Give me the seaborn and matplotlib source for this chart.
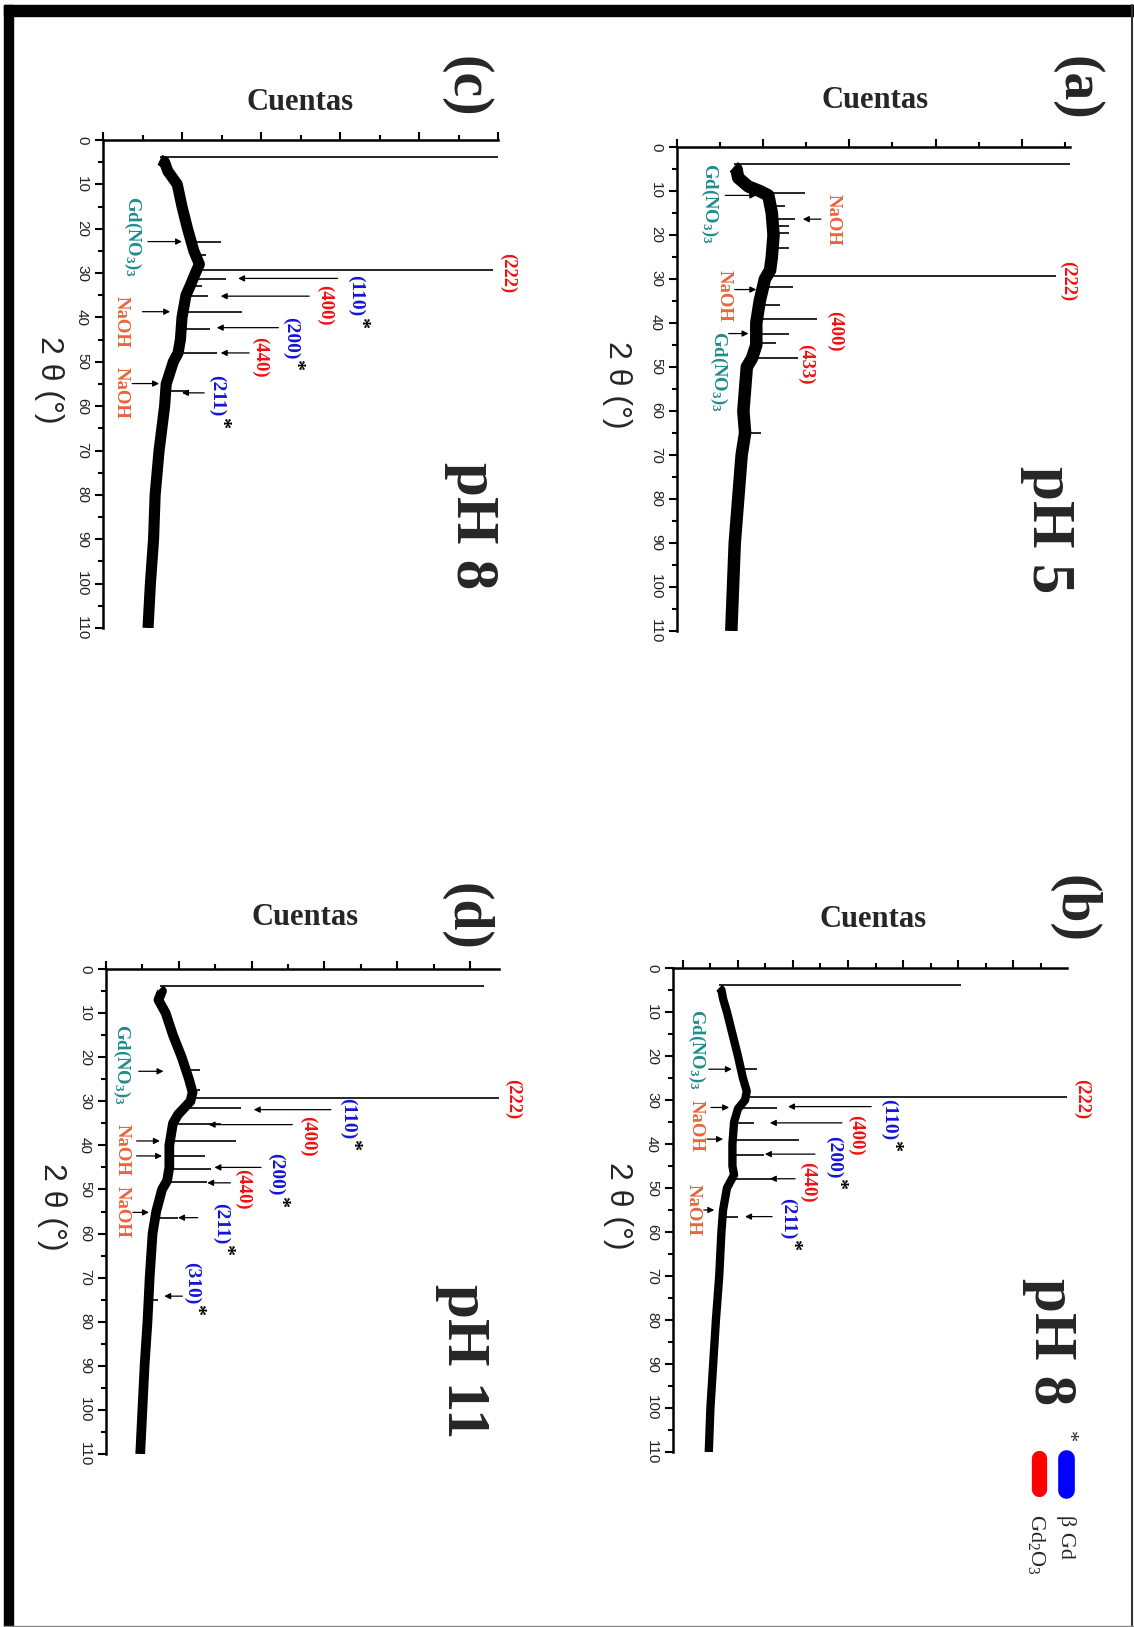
import numpy as np
import pandas as pd
import matplotlib
matplotlib.use('Agg')
import matplotlib.pyplot as plt
import seaborn as sns
from matplotlib.patches import Rectangle
from matplotlib.lines import Line2D

sns.set_theme(style='white')
SERIF = ['Liberation Serif', 'DejaVu Serif']
SANS = ['Liberation Sans', 'DejaVu Sans']
plt.rcParams['font.family'] = SERIF
plt.rcParams['mathtext.default'] = 'regular'

W, H = 1134, 1627
RED, BLUE, TEAL, ORANGE = '#f01010', '#1414d8', '#1f8c8c', '#e8643c'

# ---- (a) pH 5 : 2theta (deg) vs counts (in major-tick units)
tt_a = [4.5, 5, 7, 9, 10, 11, 15, 20, 25, 28, 30, 35, 40, 45, 48, 50, 55, 60, 65, 70, 80, 90, 100, 110]
cts_a = [0.66, 0.69, 0.71, 0.83, 0.96, 1.06, 1.1, 1.12, 1.1, 1.08, 1.02, 0.96, 0.92, 0.92, 0.87, 0.81,
         0.79, 0.77, 0.79, 0.75, 0.71, 0.67, 0.65, 0.63]
pk_tt_a = [3.8, 10.5, 13.5, 16.3, 18.0, 19.5, 23.0, 29.3, 31.8, 36.0, 39.0, 42.4, 44.5, 47.9, 65.0]
pk_base_a = [0.66, 1.0, 1.08, 1.1, 1.11, 1.11, 1.11, 1.04, 0.99, 0.95, 0.93, 0.92, 0.92, 0.87, 0.79]
pk_top_a = [6.0, 1.48, 1.25, 1.37, 1.3, 1.3, 1.3, 4.4, 1.35, 1.2, 1.62, 1.3, 1.15, 1.4, 0.98]

# ---- (b) pH 8
tt_b = [4.5, 5, 7, 10, 15, 20, 25, 28, 30, 32, 35, 40, 45, 47, 50, 55, 60, 70, 80, 90, 100, 110]
cts_b = [0.66, 0.7, 0.73, 0.8, 0.9, 1.0, 1.09, 1.16, 1.13, 1.0, 0.93, 0.9, 0.9, 0.93, 0.8, 0.73,
         0.7, 0.66, 0.6, 0.55, 0.5, 0.47]
pk_tt_b = [3.8, 23.0, 29.4, 31.8, 35.2, 39.0, 42.5, 48.0, 56.5]
pk_base_b = [0.66, 1.05, 1.14, 1.0, 0.93, 0.9, 0.9, 0.88, 0.71]
pk_top_b = [5.06, 1.35, 7.5, 1.71, 1.3, 2.11, 1.48, 1.68, 1.0]

# ---- (c) pH 8
tt_c = [4.5, 5, 7, 10, 15, 20, 25, 28, 30, 33, 35, 40, 45, 48, 50, 55, 60, 70, 80, 90, 100, 110]
cts_c = [0.72, 0.78, 0.82, 0.94, 1.0, 1.07, 1.15, 1.22, 1.17, 1.1, 1.05, 1.0, 0.98, 0.95, 0.89, 0.8,
         0.78, 0.71, 0.66, 0.64, 0.6, 0.57]
pk_tt_c = [3.8, 23.0, 26.0, 29.2, 31.3, 33.0, 35.2, 38.8, 42.5, 48.0, 56.5]
pk_base_c = [0.72, 1.1, 1.15, 1.2, 1.12, 1.1, 1.05, 1.01, 0.99, 0.95, 0.79]
pk_top_c = [6.0, 1.49, 1.3, 4.94, 1.56, 1.25, 1.33, 1.76, 1.35, 1.44, 1.07]

# ---- (d) pH 11
tt_d = [4.5, 5, 7, 10, 15, 20, 25, 28, 30, 33, 35, 40, 45, 48, 50, 55, 60, 70, 80, 90, 100, 110]
cts_d = [0.74, 0.77, 0.72, 0.82, 0.92, 1.04, 1.14, 1.19, 1.16, 0.99, 0.92, 0.87, 0.87, 0.84, 0.77,
         0.69, 0.64, 0.6, 0.57, 0.53, 0.5, 0.47]
pk_tt_d = [3.8, 23.0, 27.5, 29.2, 31.6, 35.2, 39.0, 42.5, 45.3, 48.2, 56.5, 75.0]
pk_base_d = [0.74, 1.06, 1.17, 1.18, 1.05, 0.92, 0.87, 0.87, 0.87, 0.84, 0.68, 0.58]
pk_top_d = [5.2, 1.29, 1.29, 6.0, 1.86, 1.58, 1.78, 1.36, 1.44, 1.39, 0.99, 0.72]

GD = 'Gd(NO$_3$)$_3$'
# peak labels: (text, counts, 2theta, colour, starred)
labels_a = [(GD, 0.375, 12.8, TEAL, False), ('NaOH', 1.81, 16.5, ORANGE, False),
            ('(222)', 4.54, 30.5, RED, False), ('NaOH', 0.55, 33.8, ORANGE, False),
            ('(400)', 1.83, 42.0, RED, False), (GD, 0.48, 51.0, TEAL, False),
            ('(433)', 1.5, 49.5, RED, False)]
labels_b = [(GD, 0.25, 18.6, TEAL, False), ('NaOH', 0.25, 36.0, ORANGE, False),
            ('NaOH', 0.18, 55.0, ORANGE, False), ('(222)', 7.24, 29.8, RED, False),
            ('(110)', 3.74, 29.8, BLUE, True), ('(400)', 3.14, 38.0, RED, False),
            ('(200)', 2.75, 38.1, BLUE, True), ('(440)', 2.27, 48.8, RED, False),
            ('(211)', 1.91, 52.2, BLUE, True)]
labels_c = [(GD, 0.37, 21.8, TEAL, False), ('(222)', 5.12, 29.9, RED, False),
            ('(110)', 3.2, 30.5, BLUE, True), ('(400)', 2.81, 37.2, RED, False),
            ('NaOH', 0.23, 41.0, ORANGE, False), ('NaOH', 0.23, 57.0, ORANGE, False),
            ('(200)', 2.38, 39.8, BLUE, True), ('(440)', 1.99, 48.9, RED, False),
            ('(211)', 1.44, 53.0, BLUE, True)]
labels_d = [(GD, 0.22, 21.7, TEAL, False), ('(222)', 5.59, 29.4, RED, False),
            ('(110)', 3.32, 29.2, BLUE, True), ('(400)', 2.77, 38.0, RED, False),
            ('NaOH', 0.22, 41.0, ORANGE, False), ('NaOH', 0.22, 55.0, ORANGE, False),
            ('(200)', 2.33, 41.8, BLUE, True), ('(440)', 1.88, 49.9, RED, False),
            ('(211)', 1.58, 53.0, BLUE, True), ('(310)', 1.18, 66.4, BLUE, True)]

# arrows: (tail counts, tip counts, 2theta)
arrows_a = [(0.56, 0.92, 11.0), (1.67, 1.46, 16.4), (0.67, 0.92, 32.4), (0.6, 0.83, 42.4)]
arrows_b = [(0.47, 0.89, 23.0), (0.51, 0.84, 31.7), (3.42, 1.91, 31.5), (2.89, 1.58, 35.2),
            (0.44, 0.73, 38.9), (2.4, 1.49, 42.3), (2.04, 1.58, 47.9), (0.38, 0.57, 55.0),
            (1.62, 1.13, 56.5)]
arrows_c = [(0.57, 1.0, 22.9), (2.97, 1.71, 31.2), (2.61, 1.49, 35.2), (0.5, 0.85, 38.7),
            (2.22, 1.44, 42.3), (1.85, 1.49, 48.0), (0.37, 0.71, 54.9), (1.28, 1.0, 57.0)]
arrows_d = [(0.45, 0.79, 23.2), (3.09, 2.03, 31.9), (2.56, 1.41, 35.3), (0.42, 0.74, 39.0),
            (0.42, 0.77, 42.4), (2.13, 1.49, 45.0), (1.71, 1.39, 48.5), (0.37, 0.59, 55.2),
            (1.26, 0.99, 56.4), (1.05, 0.8, 74.2)]


def fx(px):
    return px / W


def fy(py):
    return 1 - py / H


def panel(box, tt, cts, ptt, pbase, ptop, labels, arrows, xlim, nmaj, band,
          cuentas, tag, ph, lab_x):
    l, r, t, b = box
    ax = fig.add_axes([fx(l), fy(b), (r - l) / W, (b - t) / H])
    ax.set_facecolor('white')
    sns.lineplot(x=cts, y=tt, orient='y', ax=ax, color='black', linewidth=band,
                 solid_joinstyle='round', solid_capstyle='butt')
    ax.hlines(ptt, pbase, ptop, color='black', linewidth=1.2)
    ax.set_xlim(*xlim)
    ax.set_ylim(110, 0)
    ax.set_xlabel('')
    ax.set_ylabel('')
    for s in ['right', 'bottom']:
        ax.spines[s].set_visible(False)
    for s in ['left', 'top']:
        ax.spines[s].set_color('black')
        ax.spines[s].set_linewidth(1.8)
    ax.xaxis.set_ticks_position('top')
    ax.set_xticks(np.arange(0, nmaj + 1))
    ax.set_xticks(np.arange(0.5, xlim[1], 1.0), minor=True)
    ax.tick_params(axis='x', which='both', direction='out', top=True, bottom=False,
                   labeltop=False, labelbottom=False, width=1.5, color='black')
    ax.tick_params(axis='x', which='major', length=6)
    ax.tick_params(axis='x', which='minor', length=3.6)
    ax.yaxis.set_ticks_position('left')
    ax.set_yticks(np.arange(0, 111, 10))
    ax.set_yticks(np.arange(5, 111, 10), minor=True)
    ax.tick_params(axis='y', which='both', direction='out', left=True, width=1.5,
                   color='black', labelsize=11, pad=4, labelcolor='#222222',
                   labelfontfamily='Liberation Sans')
    ax.tick_params(axis='y', which='major', length=6)
    ax.tick_params(axis='y', which='minor', length=3.6)
    for lb in ax.get_yticklabels():
        lb.set_rotation(-90)
        lb.set_va('center')
    ax.grid(False)

    for (tail, tip, y) in arrows:
        ax.annotate('', xy=(tip, y), xytext=(tail, y),
                    arrowprops=dict(arrowstyle='-|>', color='black', lw=0.9,
                                    mutation_scale=9, shrinkA=0, shrinkB=0))
    for (txt, x, y, col, star) in labels:
        if star:
            t_ = ax.text(x, y, txt, color=col, rotation=-90, ha='center', va='top',
                         fontsize=14, fontweight='bold', family=SERIF)
            ax.annotate('*', xy=(0.75, 0), xycoords=t_, ha='center', va='top',
                        rotation=-90, fontsize=16, fontweight='bold', color='black',
                        family=SERIF)
        else:
            ax.text(x, y, txt, color=col, rotation=-90, ha='center', va='center',
                    fontsize=13.5, fontweight='bold', family=SERIF)

    ax.text(cuentas[0], cuentas[1], 'Cuentas', ha='center', va='baseline',
            fontsize=22, fontweight='bold', family=SERIF)
    ax.text(tag[1], tag[2], tag[0], rotation=-90, ha='center', va='center',
            fontsize=40, fontweight='bold', family=SERIF)
    ax.text(ph[1], ph[2], ph[0], rotation=-90, ha='center', va='center',
            fontsize=44, fontweight='bold', family=SERIF)
    ax.text(lab_x, 54, '2 θ (°)', rotation=-90, ha='center', va='center',
            fontsize=23, family=SANS)
    return ax


fig = plt.figure(figsize=(W / 100, H / 100), dpi=100)
fig.patch.set_facecolor('white')

panel((677, 1070, 147, 631), tt_a, cts_a, pk_tt_a, pk_base_a, pk_top_a, labels_a, arrows_a,
      (0, 4.56), 4, 9.0, (2.3, -8.9), ('(a)', 4.64, -13.4), ('pH 5', 4.31, 87), -0.7)
panel((673, 1067, 968, 1452), tt_b, cts_b, pk_tt_b, pk_base_b, pk_top_b, labels_b, arrows_b,
      (-0.18, 6.98), 6, 6.0, (3.45, -9.3), ('(b)', 7.1, -13.4), ('pH 8', 6.67, 85), -1.18)
panel((103, 498, 140, 628), tt_c, cts_c, pk_tt_c, pk_base_c, pk_top_c, labels_c, arrows_c,
      (0, 5.0), 5, 8.0, (2.5, -6.7), ('(c)', 4.59, -11.9), ('pH 8', 4.67, 87), -0.68)
panel((106, 499, 969, 1454), tt_d, cts_d, pk_tt_d, pk_base_d, pk_top_d, labels_d, arrows_d,
      (0, 5.4), 5, 7.0, (2.74, -10.0), ('(d)', 4.94, -11.8), ('pH 11', 4.9, 89), -0.74)

# legend of panel (b)
fig.add_artist(Line2D([fx(1066)] * 2, [fy(1458), fy(1490)], lw=12, color='#0000ff',
                      solid_capstyle='round', transform=fig.transFigure))
fig.add_artist(Line2D([fx(1039)] * 2, [fy(1458), fy(1489)], lw=11, color='#ff0000',
                      solid_capstyle='round', transform=fig.transFigure))
fig.text(fx(1067), fy(1437), '*', rotation=-90, ha='center', va='center', fontsize=16, family=SERIF)
fig.text(fx(1066), fy(1537), 'β Gd', rotation=-90, ha='center', va='center', fontsize=16, family=SERIF)
fig.text(fx(1037), fy(1545), 'Gd$_2$O$_3$', rotation=-90, ha='center', va='center', fontsize=16, family=SERIF)

# frame
fig.add_artist(Rectangle((fx(4), fy(16)), fx(1134) - fx(4), 11 / H, color='black',
                         transform=fig.transFigure))
fig.add_artist(Rectangle((fx(4), 0), 9 / W, fy(5), color='black', transform=fig.transFigure))
fig.add_artist(Line2D([fx(1131.5)] * 2, [0, fy(5)], lw=1.5, color='#333333',
                      transform=fig.transFigure))
fig.add_artist(Line2D([fx(4), 1], [fy(1625.5)] * 2, lw=1.0, color='#888888',
                      transform=fig.transFigure))

fig.savefig('out.png', dpi=100, facecolor='white')
